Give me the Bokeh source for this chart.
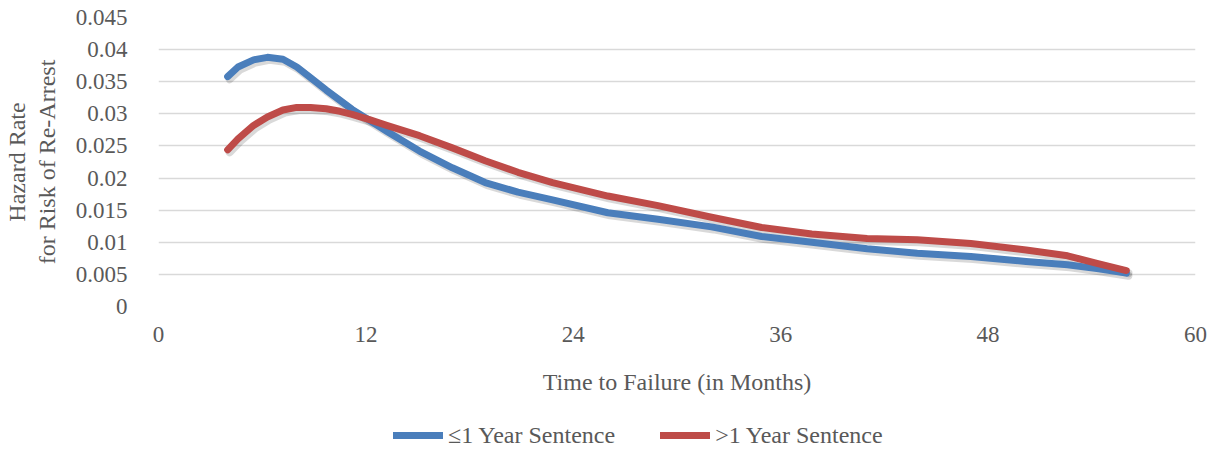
from bokeh.plotting import figure
from bokeh.models import (Range1d, FixedTicker, CustomJSTickFormatter, Legend, LegendItem,
                          ColumnDataSource)
from bokeh.layouts import column
from bokeh.transform import dodge
from bokeh.embed import file_html
from bokeh.resources import INLINE

# ---- data ----
months = [4, 4.6, 5.5, 6.3, 7.2, 8.0, 8.8, 9.7, 10.5, 11.2, 12.2, 13.2, 15.1, 17.0, 18.9,
          20.8, 22.8, 26.0, 28.9, 32.0, 34.9, 37.8, 41.0, 43.9, 47.0, 50.2, 52.6, 54.3, 56.0]
short_sentence = [0.0358, 0.0373, 0.0384, 0.0388, 0.0385, 0.0373, 0.0356, 0.0337, 0.0321,
                  0.0307, 0.0290, 0.0273, 0.0242, 0.0216, 0.0193, 0.0178, 0.0166, 0.0146,
                  0.0136, 0.0124, 0.0109, 0.0100, 0.0090, 0.0083, 0.0078, 0.0070, 0.0065,
                  0.0059, 0.0052]
long_sentence = [0.0244, 0.0261, 0.0282, 0.0295, 0.0306, 0.0310, 0.0310, 0.0308, 0.0304,
                 0.0299, 0.0291, 0.0282, 0.0266, 0.0247, 0.0227, 0.0209, 0.0193, 0.0172,
                 0.0157, 0.0139, 0.0123, 0.0113, 0.0106, 0.0104, 0.0098, 0.0088, 0.0079,
                 0.0067, 0.0056]
series_names = ["\u22641 Year Sentence", ">1 Year Sentence"]
x_ticks = [0, 12, 24, 36, 48, 60]
y_ticks = [0, 0.005, 0.01, 0.015, 0.02, 0.025, 0.03, 0.035, 0.04, 0.045]

FONT = "Liberation Serif"
TEXT = "#595959"
BLUE = "#4A7EBB"
RED = "#BE4B48"

src = ColumnDataSource(dict(m=months, a=short_sentence, b=long_sentence))

p = figure(frame_width=1037, frame_height=289, output_backend="svg", toolbar_location=None,
           x_range=Range1d(0, 60), y_range=Range1d(0, 0.045),
           min_border_left=157, min_border_top=17, min_border_right=18, min_border_bottom=100)
p.outline_line_color = None
p.background_fill_color = "white"

# soft shadows under the lines
for col in ["a", "b"]:
    p.line(x=dodge("m", 0.12), y=dodge(col, -0.0004), source=src, line_color="#000000",
           line_alpha=0.15, line_width=8, line_cap="round", line_join="round")

r1 = p.line(x="m", y="a", source=src, line_color=BLUE, line_width=7,
            line_cap="round", line_join="round")
r2 = p.line(x="m", y="b", source=src, line_color=RED, line_width=7,
            line_cap="round", line_join="round")

p.xgrid.grid_line_color = None
p.ygrid.grid_line_color = "#D9D9D9"
p.ygrid.grid_line_width = 1.3

fmt = CustomJSTickFormatter(code="""
let s = tick.toFixed(3).replace(/0+$/, '').replace(/\\.$/, '');
return s;
""")

p.xaxis.ticker = FixedTicker(ticks=x_ticks)
p.yaxis.ticker = FixedTicker(ticks=y_ticks)
p.yaxis.formatter = fmt
for ax in [p.xaxis[0], p.yaxis[0]]:
    ax.axis_line_color = None
    ax.major_tick_line_color = None
    ax.minor_tick_line_color = None
    ax.major_label_text_font = FONT
    ax.major_label_text_font_size = "23px"
    ax.major_label_text_color = TEXT
    ax.axis_label_text_font = FONT
    ax.axis_label_text_font_size = "24px"
    ax.axis_label_text_color = TEXT
    ax.axis_label_text_font_style = "normal"
    ax.axis_label_text_line_height = 1.15

p.xaxis.major_label_standoff = 14
p.yaxis.major_label_standoff = 25
p.xaxis.axis_label = "Time to Failure (in Months)"
p.xaxis.axis_label_standoff = 24
p.yaxis.axis_label = "Hazard Rate\nfor Risk of Re-Arrest"
p.yaxis.axis_label_standoff = 13

# ---- legend strip below the chart ----
# the series are drawn here out of view (y range above the data) only to feed the legend glyphs
leg_fig = figure(frame_width=1212, frame_height=45, output_backend="svg", toolbar_location=None,
                 x_range=Range1d(0, 60), y_range=Range1d(1, 2),
                 x_axis_type=None, y_axis_type=None,
                 min_border_left=0, min_border_right=0, min_border_top=0, min_border_bottom=0)
leg_fig.outline_line_color = None
leg_fig.xgrid.visible = False
leg_fig.ygrid.visible = False
k1 = leg_fig.line(x="m", y="a", source=src, line_color=BLUE, line_width=7, line_cap="round")
k2 = leg_fig.line(x="m", y="b", source=src, line_color=RED, line_width=7, line_cap="round")

legend = Legend(items=[LegendItem(label=series_names[0], renderers=[k1]),
                       LegendItem(label=series_names[1], renderers=[k2])],
                orientation="horizontal", location=(393, 2),
                label_text_font=FONT, label_text_font_size="24px", label_text_color=TEXT,
                glyph_width=50, glyph_height=28, label_height=28, label_standoff=5, spacing=45,
                padding=0, margin=0, border_line_color=None, background_fill_alpha=0)
leg_fig.add_layout(legend, "center")

layout = column(p, leg_fig, spacing=0)
open("out.html", "w").write(file_html(layout, INLINE))
